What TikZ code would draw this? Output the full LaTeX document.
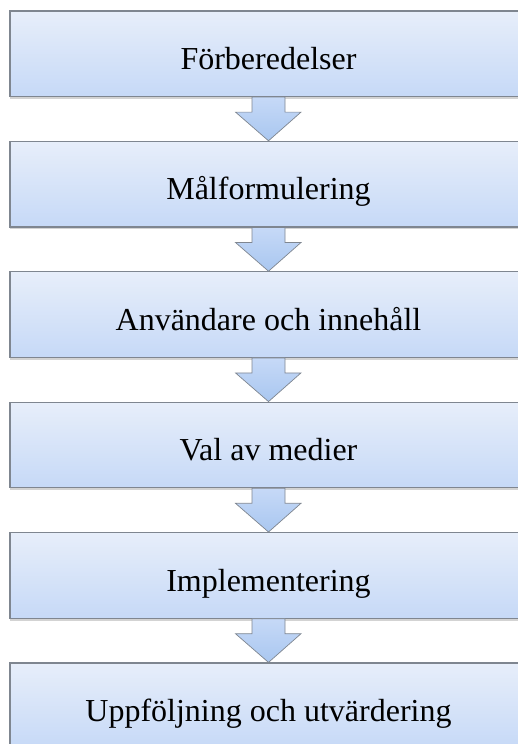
\documentclass[tikz,border=0pt]{standalone}
\usepackage{fontspec}
\setmainfont{Liberation Serif}
\usetikzlibrary{calc,shadows}
\definecolor{ljusbla}{HTML}{E7EEFA}
\definecolor{mellanbla}{HTML}{C6D9F7}
\definecolor{pilbla}{HTML}{A9C7F0}
\definecolor{kant}{HTML}{7F8690}
\tikzset{
  steg/.style={draw=kant, line width=1.2pt, top color=ljusbla, bottom color=mellanbla,
    minimum width=517pt, minimum height=85.5pt, inner sep=0pt,
    text height=31.5pt, text depth=0pt, font=\fontsize{32}{38}\selectfont,
    drop shadow={shadow xshift=0pt, shadow yshift=-2.5pt, opacity=0.35}},
  pil/.style={draw=kant, line width=0.7pt, top color=mellanbla, bottom color=pilbla}
}
\begin{document}
\begin{tikzpicture}[x=1pt,y=-1pt]
   \useasboundingbox (0,0) rectangle (517,744);
   \node[steg] (forb) at (268.5,53.75) {Förberedelser};
   \node[steg] (mal) at (268.5,184.15) {Målformulering};
   \node[steg] (anv) at (268.5,314.55) {Användare och innehåll};
   \node[steg] (val) at (268.5,444.95) {Val av medier};
   \node[steg] (impl) at (268.5,575.35) {Implementering};
   \node[steg] (uppf) at (268.5,705.75) {Uppföljning och utvärdering};
   % pilar mellan stegen
   \foreach \a/\b in {forb/mal, mal/anv, anv/val, val/impl, impl/uppf}
     \draw[pil] ($(\a.south)+(-16.5,0)$) -- ++(0,15) -- ++(-16.5,0) -- (\b.north)
       -- ($(\a.south)+(32.5,15)$) -- ++(-16,0) -- ++(0,-15) -- cycle;
\end{tikzpicture}
\end{document}
